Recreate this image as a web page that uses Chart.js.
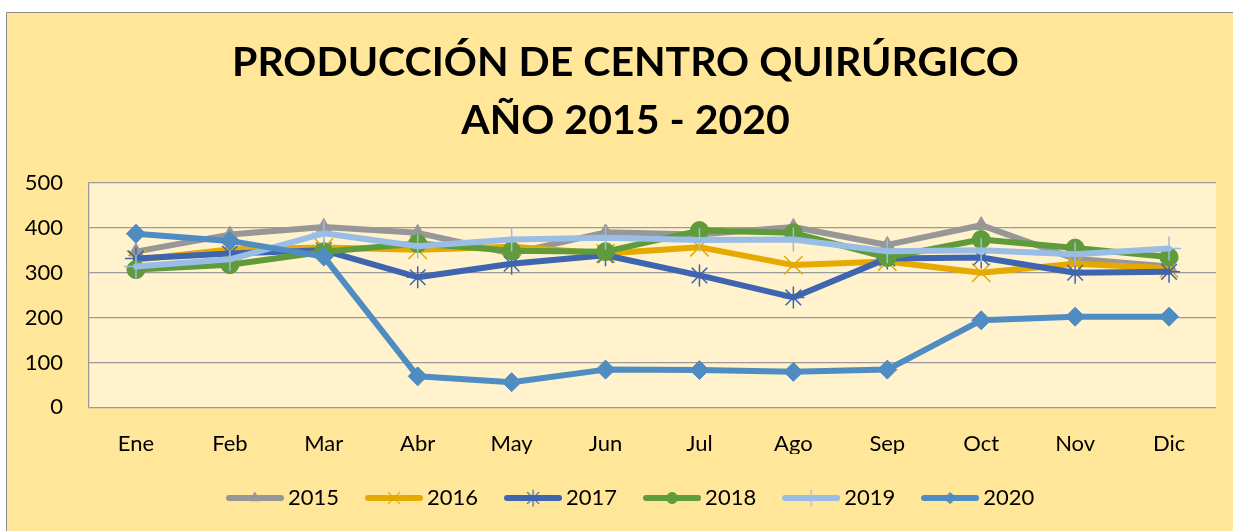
<!DOCTYPE html>
<html>
<head>
<meta charset="utf-8">
<title>Producción de Centro Quirúrgico</title>
<script src="https://cdn.jsdelivr.net/npm/chart.js@4.4.1/dist/chart.umd.min.js"></script>
<style>
  html, body { margin: 0; padding: 0; background: #ffffff; }
  #wrap { width: 1233px; height: 531px; }
</style>
</head>
<body>
<div id="wrap"><canvas id="chart" width="1233" height="531"></canvas></div>
<script>
// data
const months = ['Ene', 'Feb', 'Mar', 'Abr', 'May', 'Jun', 'Jul', 'Ago', 'Sep', 'Oct', 'Nov', 'Dic']
const years = ['2015', '2016', '2017', '2018', '2019', '2020']
const y2015 = [347, 385, 402, 389, 343, 390, 385, 402, 362, 406, 331, 314]
const y2016 = [329, 352, 356, 351, 358, 343, 357, 317, 325, 300, 320, 310]
const y2017 = [332, 343, 350, 290, 320, 339, 294, 245, 332, 334, 300, 302]
const y2018 = [307, 318, 347, 365, 349, 347, 394, 389, 334, 374, 355, 335]
const y2019 = [314, 330, 388, 359, 374, 378, 373, 374, 348, 350, 341, 354]
const y2020 = [387, 371, 336, 69, 56, 84, 83, 79, 84, 194, 202, 202]
const yTicks = [0, 100, 200, 300, 400, 500]

const series = [y2015, y2016, y2017, y2018, y2019, y2020]

// look of each series (excel style markers)
const looks = [
  { color: '#979797', marker: 'triangle', r: 8.5, filled: true },
  { color: '#E5A900', marker: 'crossRot', r: 13, filled: false },
  { color: '#3F65B0', marker: 'star', r: 11, filled: false },
  { color: '#5F9B3B', marker: 'circle', r: 9, filled: true },
  { color: '#99BDE5', marker: 'cross', r: 12, filled: false },
  { color: '#4F8CC2', marker: 'rectRot', r: 9.5, filled: true }
]

Chart.defaults.font.family = 'Lato, "Open Sans", sans-serif'
Chart.defaults.color = '#000000'

// small line + marker picture for the legend
function legendIcon (look) {
  const c = document.createElement('canvas')
  c.width = 58
  c.height = 20
  const g = c.getContext('2d')
  g.strokeStyle = look.color
  g.lineWidth = 6
  g.lineCap = 'round'
  g.beginPath()
  g.moveTo(3, 10)
  g.lineTo(55, 10)
  g.stroke()
  g.fillStyle = look.color
  g.lineWidth = look.filled ? 1 : 1.2
  if (Chart.helpers && Chart.helpers.drawPoint) {
    Chart.helpers.drawPoint(g, {
      pointStyle: look.marker,
      radius: look.filled ? 5.5 : 8,
      rotation: 0,
      borderWidth: 1
    }, 29, 10)
  }
  return c
}
const icons = looks.map(legendIcon)

const frame = {
  id: 'frame',
  beforeDraw (chart) {
    const { ctx, chartArea: a } = chart
    ctx.save()
    ctx.fillStyle = '#ffffff'
    ctx.fillRect(0, 0, chart.width, chart.height)
    ctx.fillStyle = '#FFE699'
    ctx.fillRect(6, 12, chart.width - 6, chart.height - 12)
    ctx.strokeStyle = '#8c8c8c'
    ctx.lineWidth = 1
    ctx.beginPath()
    ctx.moveTo(6.5, chart.height)
    ctx.lineTo(6.5, 12.5)
    ctx.lineTo(chart.width, 12.5)
    ctx.stroke()
    ctx.fillStyle = '#FFF2CC'
    ctx.fillRect(a.left, a.top, a.right - a.left, a.bottom - a.top)
    ctx.restore()
  }
}

// title and legend sit a bit off centre in the original
const shiftBoxes = {
  id: 'shiftBoxes',
  afterLayout (chart) {
    const lg = chart.legend
    const p = lg.options.labels.padding
    lg.left = 233 - p
    lg.right = lg.left + lg.lineWidths[0] + 100
    chart.titleBlock.left = 35
  }
}

const datasets = series.map((data, i) => {
  const look = looks[i]
  return {
    label: years[i],
    data: data,
    order: series.length - 1 - i,
    borderColor: look.color,
    backgroundColor: look.color,
    borderWidth: 6,
    borderJoinStyle: 'round',
    borderCapStyle: 'round',
    tension: 0,
    fill: false,
    pointStyle: look.marker,
    pointRadius: look.r,
    pointBackgroundColor: look.color,
    pointBorderColor: look.color,
    pointBorderWidth: look.filled ? 1 : 1.5
  }
})

new Chart(document.getElementById('chart'), {
  type: 'line',
  data: { labels: months, datasets: datasets },
  plugins: [frame, shiftBoxes],
  options: {
    responsive: false,
    devicePixelRatio: 1,
    animation: false,
    events: [],
    layout: { padding: { left: 20, right: 17, top: 0, bottom: 12 } },
    plugins: {
      title: {
        display: true,
        text: ['PRODUCCIÓN DE CENTRO QUIRÚRGICO', 'AÑO 2015 - 2020'],
        color: '#000000',
        font: { size: 41, weight: 'bold', lineHeight: 1.415 },
        padding: { top: 34, bottom: 33 }
      },
      legend: {
        position: 'bottom',
        align: 'start',
        labels: {
          usePointStyle: true,
          pointStyleWidth: 44,
          padding: 33,
          color: '#000000',
          font: { size: 22 },
          sort: (a, b) => a.datasetIndex - b.datasetIndex,
          generateLabels (chart) {
            const items = Chart.defaults.plugins.legend.labels.generateLabels(chart)
            items.forEach(it => { it.pointStyle = icons[it.datasetIndex] })
            return items
          }
        }
      },
      tooltip: { enabled: false }
    },
    scales: {
      x: {
        offset: true,
        grid: { display: false, drawTicks: false },
        border: { display: false },
        ticks: { color: '#000000', font: { size: 22 }, padding: 23, maxRotation: 0, autoSkip: false },
        afterFit (s) { s.height = 46.7 }
      },
      y: {
        min: yTicks[0],
        max: yTicks[yTicks.length - 1],
        afterBuildTicks (s) { s.ticks = yTicks.map(v => ({ value: v })) },
        ticks: { color: '#000000', font: { size: 22 }, padding: 26 },
        grid: { color: '#9a9a9a', lineWidth: 1.3, drawTicks: false },
        border: { display: true, color: '#9a9a9a', width: 1.3 },
        afterFit (s) { s.width = 69 }
      }
    }
  }
})
</script>
</body>
</html>
